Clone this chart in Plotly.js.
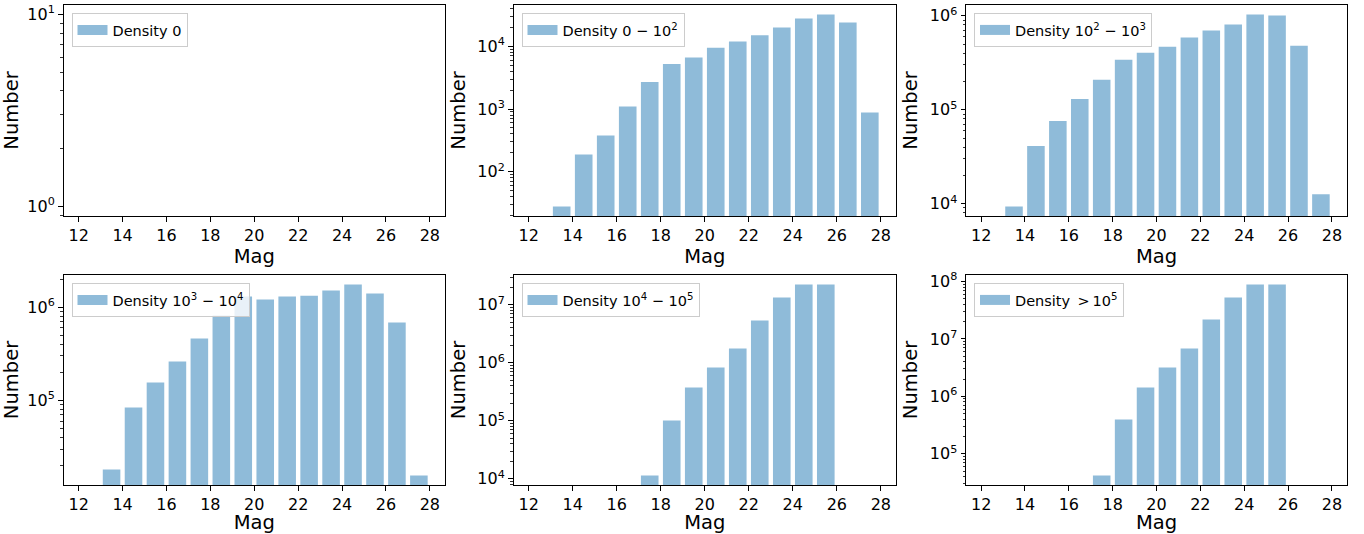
<!DOCTYPE html>
<html>
<head>
<meta charset="utf-8">
<script src="https://cdn.plot.ly/plotly-3.0.1.min.js"></script>
<style>html,body{margin:0;padding:0;background:#fff;}#chart{width:1364px;height:534px;}</style>
</head>
<body>
<div id="chart"></div>
<script>
// ---- data ----
const mag = [12.5,13.5,14.5,15.5,16.5,17.5,18.5,19.5,20.5,21.5,22.5,23.5,24.5,25.5,26.5,27.5];
const density0 = [0,0,0,0,0,0,0,0,0,0,0,0,0,0,0,0];
const density1 = [0,28,189,378,1100,2700,5200,6600,9500,11900,15000,20000,27700,32000,23900,880];
const density2 = [0,9350,41000,75900,130000,208000,341000,405000,469000,586000,696000,807000,1030000,1007000,479000,12600];
const density3 = [0,18200,84100,156000,262000,462000,815000,1300000,1210000,1300000,1330000,1510000,1750000,1400000,686000,15700];
const density4 = [0,0,0,0,0,11400,101000,375000,830000,1760000,5350000,13400000,22400000,22400000,0,0];
const density5 = [0,0,0,0,0,41900,396000,1430000,3190000,6820000,21900000,52700000,88700000,88700000,0,0];
const seriesNames = [
  'Density 0',
  'Density 0 \u2212 10<sup>2</sup>',
  'Density 10<sup>2</sup> \u2212 10<sup>3</sup>',
  'Density 10<sup>3</sup> \u2212 10<sup>4</sup>',
  'Density 10<sup>4</sup> \u2212 10<sup>5</sup>',
  'Density\u2002>\u200910<sup>5</sup>'
];
const xTickVals = [12,14,16,18,20,22,24,26,28];
const xTickText = ['12','14','16','18','20','22','24','26','28'];
const xLabel = 'Mag';
const yLabel = 'Number';

// ---- layout helpers ----
const W = 1364, H = 534;
const cols = [[63.5,445],[513.5,896],[966,1347]];
const rows = [[5,216],[275,485]];
const allSeries = [density0,density1,density2,density3,density4,density5];
const barColor = 'rgba(31,119,180,0.5)';

function logRange(vals){
  const pos = vals.filter(v => v > 0);
  if (pos.length === 0) return [-0.05, 1.05];
  const lo = Math.log10(Math.min(...pos)), hi = Math.log10(Math.max(...pos));
  const m = 0.05*(hi-lo);
  return [lo-m, hi+m];
}

const data = [];
const layout = {
  width: W, height: H,
  margin: {l:0,r:0,t:0,b:0},
  paper_bgcolor: '#fff', plot_bgcolor: '#fff',
  font: {family: 'DejaVu Sans', color: '#000'},
  showlegend: true
};

allSeries.forEach((vals, i) => {
  const r = Math.floor(i/3), c = i%3;
  const n = i+1;
  const xa = n === 1 ? 'xaxis' : 'xaxis'+n;
  const ya = n === 1 ? 'yaxis' : 'yaxis'+n;
  const xr = n === 1 ? 'x' : 'x'+n;
  const yr = n === 1 ? 'y' : 'y'+n;
  const lg = n === 1 ? 'legend' : 'legend'+n;
  data.push({
    type: 'bar', x: mag, y: vals, width: 0.8,
    xaxis: xr, yaxis: yr,
    name: seriesNames[i],
    marker: {color: barColor, line: {width: 0}},
    showlegend: false, hoverinfo: 'x+y'
  });
  // legend entry (wide patch like matplotlib)
  data.push({
    type: 'scatter', mode: 'lines', x: [null], y: [null],
    xaxis: xr, yaxis: yr, legend: lg,
    name: seriesNames[i],
    line: {color: barColor, width: 10},
    showlegend: true, hoverinfo: 'skip'
  });
  const yrng = logRange(vals);
  const yTickVals = [], yTickText = [], yMinor = [];
  for (let e = Math.ceil(yrng[0]); e <= Math.floor(yrng[1]); e++) {
    yTickVals.push(Math.pow(10,e));
    yTickText.push('10<sup>'+e+'</sup>');
  }
  for (let e = Math.floor(yrng[0]); e <= Math.ceil(yrng[1]); e++) {
    for (let k = 2; k <= 9; k++) {
      const v = k*Math.pow(10,e), lv = Math.log10(v);
      if (lv > yrng[0] && lv < yrng[1]) yMinor.push(v);
    }
  }
  const common = {
    showline: true, mirror: true, linecolor: '#000', linewidth: 1,
    ticks: 'outside', tickcolor: '#000', ticklen: 4.5, tickwidth: 1,
    showgrid: false, zeroline: false, automargin: false,
    tickfont: {size: 16, family: 'DejaVu Sans', color: '#000'}
  };
  layout[xa] = Object.assign({}, common, {
    domain: [cols[c][0]/W, cols[c][1]/W],
    anchor: yr,
    range: [11.31, 28.69],
    tickmode: 'array', tickvals: xTickVals, ticktext: xTickText,
    title: {text: xLabel, font: {size: 19.5, family: 'DejaVu Sans', color: '#000'}, standoff: 0}
  });
  layout[ya] = Object.assign({}, common, {
    domain: [1 - rows[r][1]/H, 1 - rows[r][0]/H],
    anchor: xr,
    type: 'log',
    range: yrng,
    tickmode: 'array', tickvals: yTickVals, ticktext: yTickText,
    minor: {ticks: 'outside', ticklen: 2.5, tickcolor: '#000', tickwidth: 0.8, tickmode: 'array', tickvals: yMinor, showgrid: false},
    title: {text: yLabel, font: {size: 19.5, family: 'DejaVu Sans', color: '#000'}, standoff: 6}
  });
  layout[lg] = {
    x: (cols[c][0]+8)/W, y: 1 - (rows[r][0]+8)/H,
    xanchor: 'left', yanchor: 'top',
    bgcolor: 'rgba(255,255,255,0.8)', bordercolor: '#cccccc', borderwidth: 1,
    font: {size: 14.5, family: 'DejaVu Sans', color: '#000'},
    itemwidth: 30, tracegroupgap: 0
  };
});

Plotly.newPlot('chart', data, layout, {displayModeBar: false, staticPlot: true});
</script>
</body>
</html>
